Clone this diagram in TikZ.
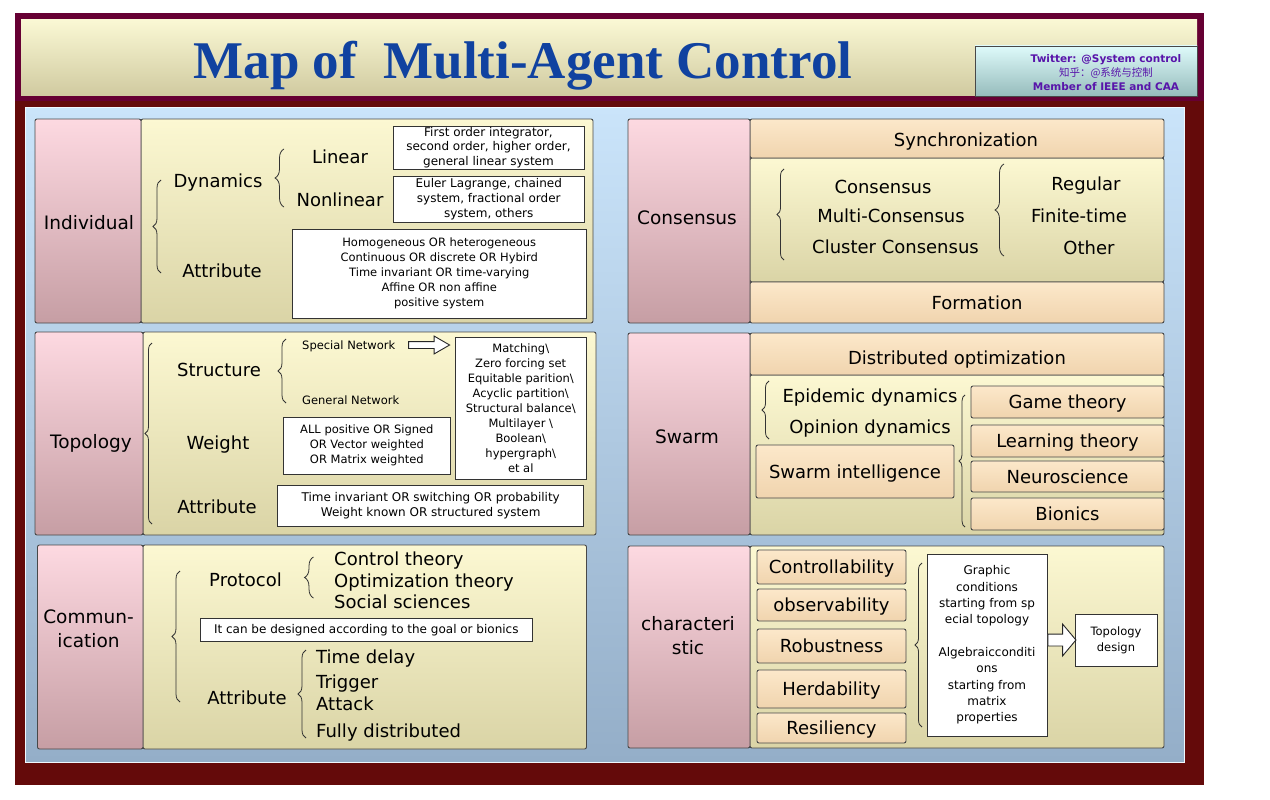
\documentclass[tikz,border=0pt]{standalone}
\usepackage{fontspec}
\setmainfont{DejaVu Sans}
\newfontfamily\titlefont{Liberation Serif}
\newfontfamily\cjkfont{Noto Sans CJK SC}
\usetikzlibrary{positioning, shapes.arrows, decorations.pathreplacing}

\definecolor{frameRed}{RGB}{100,10,10}
\definecolor{hdrBorder}{RGB}{102,0,51}
\definecolor{hdrTop}{RGB}{250,248,212}
\definecolor{hdrBot}{RGB}{208,202,160}
\definecolor{panelTop}{RGB}{202,228,250}
\definecolor{panelBot}{RGB}{148,174,200}
\definecolor{pinkTop}{RGB}{253,217,225}
\definecolor{pinkBot}{RGB}{198,158,164}
\definecolor{creamTop}{RGB}{252,248,210}
\definecolor{creamBot}{RGB}{218,212,166}
\definecolor{peachTop}{RGB}{252,232,202}
\definecolor{peachBot}{RGB}{240,212,174}
\definecolor{twTop}{RGB}{222,250,250}
\definecolor{twBot}{RGB}{150,188,188}
\definecolor{twText}{RGB}{88,20,170}
\definecolor{titleBlue}{RGB}{16,66,160}
\definecolor{edge}{RGB}{72,72,72}

\begin{document}
\begin{tikzpicture}[x=1pt, y=-1pt,
    cell/.style={draw=edge, line width=0.9pt, rounded corners=2pt, inner sep=0pt},
    pinkcell/.style={cell, top color=pinkTop, bottom color=pinkBot},
    creamcell/.style={cell, top color=creamTop, bottom color=creamBot},
    peachcell/.style={cell, top color=peachTop, bottom color=peachBot,
                      font=\fontsize{18}{22}\selectfont, text height=13pt, text depth=0pt},
    wbox/.style={draw=black!80, line width=1pt, fill=white, align=center,
                 inner sep=0.5pt, font=\fontsize{11.5}{15}\selectfont},
    lbl/.style={inner sep=0pt, font=\fontsize{18.5}{24}\selectfont,
                text height=13.5pt, text depth=0pt},
    lbltwo/.style={inner sep=0pt, align=center, font=\fontsize{18.5}{23.5}\selectfont},
    midtxt/.style={inner sep=0pt, font=\fontsize{18}{22}\selectfont,
                   text height=13pt, text depth=0pt},
    sml/.style={inner sep=0pt, font=\fontsize{11.5}{15}\selectfont,
                text height=8.4pt, text depth=0pt},
    brc/.style={decorate, decoration={brace, amplitude=#1}, draw=black!80, line width=0.8pt},
    brc/.default=8pt,
    blockarr/.style={single arrow, draw=black!85, fill=white, line width=0.9pt,
                     single arrow head extend=5.5pt, single arrow tip angle=60,
                     inner sep=3pt, minimum height=41}
  ]
    \useasboundingbox (0,0) rectangle (1270,800);
    \fill[white] (0,0) rectangle (1270,800);

    \fill[frameRed] (15,97) rectangle (1204,785);
    \fill[hdrBorder] (15,13) rectangle (1204,101);
    \shade[top color=hdrTop, bottom color=hdrBot] (21,20) rectangle (1197,96);
    \shade[top color=panelTop, bottom color=panelBot, draw=white!70!panelTop, line width=1pt]
      (25,108) rectangle (1184,762);

    \node[font=\titlefont\bfseries\fontsize{53}{60}\selectfont, text=titleBlue,
          anchor=base, inner sep=0pt] (title) at (523,79) {Map of~~Multi-Agent Control};
    \node[cell, rounded corners=0pt, top color=twTop, bottom color=twBot,
          minimum width=222, minimum height=50] (twbox) at (1086,71) {};
    \node[align=center, inner sep=0pt, text=twText, font=\bfseries\fontsize{10.5}{14}\selectfont]
      (twinfo) at ([xshift=20pt, yshift=-2pt]twbox.center)
      {Twitter: @System control\\{\cjkfont\mdseries 知乎：@系统与控制}\\Member of IEEE and CAA};

    \node[creamcell, minimum width=452, minimum height=204] (indbody) at (367,221) {};
    \node[pinkcell, minimum width=106, minimum height=204] (indcell) at (88,221) {};
    \node[lbl] (individual) at (89,223) {Individual};
    \node[midtxt] (dynamics) at (218,181) {Dynamics};
    \node[midtxt] (indattr) at (222,271) {Attribute};
    \node[midtxt] (linear) at (340,157) {Linear};
    \node[midtxt] (nonlinear) at (340,200) {Nonlinear};
    \node[wbox, minimum width=191, minimum height=43, font=\fontsize{12}{14.6}\selectfont]
      (linbox) at (488.5,147.5)
      {First order integrator,\\second order, higher order,\\general linear system};
    \node[wbox, minimum width=191.5, minimum height=46, font=\fontsize{12}{15}\selectfont]
      (nonlinbox) at (488.75,199)
      {Euler Lagrange, chained\\system, fractional order\\system, others};
    \node[wbox, minimum width=294.5, minimum height=89] (indattrbox) at (439.25,273.5)
      {Homogeneous OR heterogeneous\\Continuous OR discrete OR Hybird\\Time invariant OR time-varying\\Affine OR non affine\\positive system};
    \draw[brc] (161,273) -- (161,180);
    \draw[brc=9pt] (284,207) -- (284,149);

    \node[creamcell, minimum width=453, minimum height=203] (topbody) at (369.5,433.5) {};
    \node[pinkcell, minimum width=108, minimum height=203] (topcell) at (89,433.5) {};
    \node[lbl] (topology) at (91,442) {Topology};
    \node[midtxt] (structure) at (219,370) {Structure};
    \node[midtxt] (weight) at (218,443) {Weight};
    \node[midtxt] (topattr) at (217,507) {Attribute};
    \node[sml, anchor=west] (special) at (302,345) {Special Network};
    \node[sml, anchor=west] (general) at (302,400) {General Network};
    \node[wbox, minimum width=131.5, minimum height=142] (netbox) at (520.75,408)
      {Matching\textbackslash\\Zero forcing set\\Equitable parition\textbackslash\\Acyclic partition\textbackslash\\Structural balance\textbackslash\\Multilayer \textbackslash\\Boolean\textbackslash\\hypergraph\textbackslash\\et al};
    \node[blockarr, anchor=east, xshift=-4pt] (netarrow) at (netbox.west |- special) {};
    \node[wbox, minimum width=166.3, minimum height=57] (weightbox) at (366.85,445.5)
      {ALL positive OR Signed\\OR Vector weighted\\OR Matrix weighted};
    \node[wbox, minimum width=306, minimum height=41, font=\fontsize{12}{14.5}\selectfont]
      (topattrbox) at (430.65,505.5)
      {Time invariant OR switching OR probability\\Weight known OR structured system};
    \draw[brc=7pt] (152,524) -- (152,343);
    \draw[brc] (286,403) -- (286,339);

    \node[creamcell, minimum width=443.5, minimum height=204] (combody) at (364.75,647) {};
    \node[pinkcell, minimum width=105.5, minimum height=204] (comcell) at (90.25,647) {};
    \node[lbltwo] (communication) at (88.5,629) {Commun-\\ication};
    \node[midtxt] (protocol) at (245.5,580) {Protocol};
    \node[midtxt, anchor=west] (control) at (334,559) {Control theory};
    \node[midtxt, anchor=west] (optimization) at (334,580.5) {Optimization theory};
    \node[midtxt, anchor=west] (social) at (334,601.5) {Social sciences};
    \node[wbox, minimum width=332.6, minimum height=22.7, font=\fontsize{12}{15}\selectfont]
      (goalbox) at (366.3,630.3)
      {It can be designed according to the goal or bionics};
    \node[midtxt] (comattr) at (247,698) {Attribute};
    \node[midtxt, anchor=west] (delay) at (316,656.5) {Time delay};
    \node[midtxt, anchor=west] (trigger) at (316,681.5) {Trigger};
    \node[midtxt, anchor=west] (attack) at (316,704) {Attack};
    \node[midtxt, anchor=west] (fully) at (316,731) {Fully distributed};
    \draw[brc] (180,702) -- (180,571);
    \draw[brc=9pt] (313.5,598) -- (313.5,557);
    \draw[brc] (306,738) -- (306,650);

    \node[creamcell, minimum width=414, minimum height=124] (conbody) at (957,220) {};
    \node[peachcell, minimum width=414, minimum height=39] (syncbar) at (957,138.5) {};
    \node[peachcell, minimum width=414, minimum height=41] (formbar) at (957,302.5) {};
    \node[pinkcell, minimum width=122, minimum height=204] (concell) at (689,221) {};
    \node[lbl] (consensus) at (687,218) {Consensus};
    \node[midtxt] (sync) at ([xshift=9pt, yshift=-1.5pt]syncbar.center) {Synchronization};
    \node[midtxt] (formation) at ([xshift=20pt]formbar.center) {Formation};
    \node[midtxt] (cons) at (883,187) {Consensus};
    \node[midtxt] (multicons) at (891,216) {Multi-Consensus};
    \node[midtxt] (clustercons) at (895.5,247) {Cluster Consensus};
    \node[midtxt] (regular) at (1086,184) {Regular};
    \node[midtxt] (finite) at (1079,216) {Finite-time};
    \node[midtxt] (other) at (1089,248) {Other};
    \draw[brc=7pt] (784,260) -- (784,169);
    \draw[brc=9pt] (1004,256) -- (1004,164);

    \node[creamcell, minimum width=414, minimum height=160] (swbody) at (957,455) {};
    \node[peachcell, minimum width=414, minimum height=42] (optbar) at (957,354) {};
    \node[pinkcell, minimum width=122, minimum height=202] (swcell) at (689,434) {};
    \node[lbl] (swarm) at (687,437) {Swarm};
    \node[midtxt] (distopt) at ([yshift=-4pt]optbar.center) {Distributed optimization};
    \node[midtxt] (epidemic) at (870,396) {Epidemic dynamics};
    \node[midtxt] (opinion) at (870,427) {Opinion dynamics};
    \node[peachcell, minimum width=198, minimum height=53] (swint) at (855,471.5) {Swarm intelligence};
    \node[peachcell, minimum width=193, minimum height=32] (game) at (1067.5,402) {Game theory};
    \node[peachcell, minimum width=193, minimum height=32] (learning) at (1067.5,441) {Learning theory};
    \node[peachcell, minimum width=193, minimum height=31] (neuro) at (1067.5,476.5) {Neuroscience};
    \node[peachcell, minimum width=193, minimum height=32] (bionics) at (1067.5,514) {Bionics};
    \draw[brc=7pt] (769,439) -- (769,381);
    \draw[brc=6pt] (965,527) -- (965,395);

    \node[creamcell, minimum width=414, minimum height=202] (chbody) at (957,647) {};
    \node[pinkcell, minimum width=122, minimum height=202] (chcell) at (689,647) {};
    \node[lbltwo] (characteristic) at (688,635.5) {characteri\\stic};
    \node[peachcell, minimum width=149, minimum height=34] (ctrl) at (831.5,567) {Controllability};
    \node[peachcell, minimum width=149, minimum height=32] (obs) at (831.5,605) {observability};
    \node[peachcell, minimum width=149, minimum height=34] (robust) at (831.5,646) {Robustness};
    \node[peachcell, minimum width=149, minimum height=38] (herd) at (831.5,689) {Herdability};
    \node[peachcell, minimum width=149, minimum height=30] (resil) at (831.5,728) {Resiliency};
    \node[wbox, minimum width=120, minimum height=182, font=\fontsize{12}{16.3}\selectfont]
      (condbox) at (987,645)
      {Graphic\\conditions\\starting from sp\\ecial topology\\[16.3pt]Algebraicconditi\\ons\\starting from\\matrix\\properties};
    \node[wbox, minimum width=82, minimum height=52, font=\fontsize{11.5}{16}\selectfont]
      (tdbox) at (1116,640) {Topology\\design};
    \node[blockarr, inner sep=5.5pt, single arrow head extend=10pt, single arrow tip angle=100,
          minimum height=28, anchor=west] (tdarrow) at (condbox.east |- tdbox) {};
    \draw[brc=7pt] (922,727) -- (922,563);
\end{tikzpicture}
\end{document}
